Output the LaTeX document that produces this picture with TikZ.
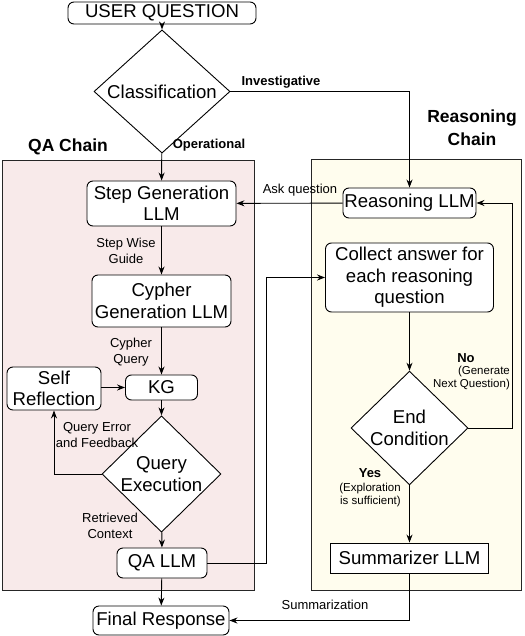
\documentclass[tikz,border=0pt]{standalone}
\usepackage{fontspec}
\setmainfont{Liberation Sans}
\usetikzlibrary{shapes.geometric,arrows.meta}
\definecolor{qapink}{HTML}{F8EAEA}
\definecolor{rcyellow}{HTML}{FFFDEE}
\newcommand{\bigf}{\fontsize{18.6}{21.5}\selectfont}
\newcommand{\smallf}{\fontsize{13}{16}\selectfont}
\newcommand{\tinyf}{\fontsize{11.5}{13}\selectfont}

\begin{document}
\begin{tikzpicture}[x=1pt,y=-1pt,>={Stealth[length=8pt,width=6pt]},line width=0.9pt,
	box/.style={draw,rounded corners=6pt,fill=white,align=center,inner sep=0pt,font=\bigf},
	sqbox/.style={draw,fill=white,align=center,inner sep=0pt,font=\bigf},
	cond/.style={draw,diamond,fill=white,align=center,inner sep=0pt,font=\bigf},
	lbl/.style={font=\smallf,align=center,inner sep=0pt},
	head/.style={font=\fontsize{17.5}{23}\selectfont\bfseries,align=center,inner sep=0pt}]
	\useasboundingbox (0,0) rectangle (524,636);
	% chain backgrounds
	\draw[fill=qapink,draw=black!85] (2.5,160) rectangle (254,590);
	\draw[fill=rcyellow,draw=black!85] (311.5,159) rectangle (521.5,590);
	\node[head] (qahead) at (68,147) {QA Chain};
	\node[head] (rchead) at (472,128) {Reasoning\\Chain};
	% QA chain
	\node[box,minimum width=188,minimum height=22] (uq) at (162,13) {USER QUESTION};
	\node[cond,minimum width=136,minimum height=83] (cls) at (162,91.5) {Classification};
	\node[box,minimum width=149,minimum height=45] (stepgen) at (161.5,203.5) {Step Generation\\LLM};
	\node[box,minimum width=139,minimum height=52] (cypher) at (161.5,301) {Cypher\\Generation LLM};
	\node[box,minimum width=94,minimum height=43] (self) at (54,388.5) {Self\\Reflection};
	\node[box,minimum width=72,minimum height=25] (kg) at (161.5,387.5) {KG};
	\node[cond,minimum width=119,minimum height=92] (qexec) at (161.5,474) {Query\\Execution};
	\node[box,minimum width=90,minimum height=30] (qallm) at (162,563) {QA LLM};
	\node[box,minimum width=136,minimum height=29] (final) at (161,620.5) {Final Response};
	% reasoning chain
	\node[box,minimum width=133,minimum height=30] (rllm) at (409.5,203) {Reasoning LLM};
	\node[box,minimum width=168,minimum height=69] (collect) at (409.5,277.5) {Collect answer for\\each reasoning\\question};
	\node[cond,minimum width=117,minimum height=95] (endc) at (409.5,428) {End\\Condition};
	\node[sqbox,minimum width=158,minimum height=30] (summ) at (409.5,558) {Summarizer LLM};
	\coordinate (qaturn) at (266,563);
	\coordinate (noturn) at (512,428);
	% connectors
	\draw[->] (uq) -- (cls);
	\draw[->] (cls) -- (stepgen);
	\draw[->] (cls.east) -| (rllm.north);
	\draw[->] (rllm) -- (stepgen);
	\draw[->] (stepgen) -- (cypher);
	\draw[->] (cypher) -- (kg);
	\draw[->] (self.east |- kg) -- (kg.west);
	\draw[->] (kg) -- (qexec);
	\draw[->] (qexec.west) -| (self.south);
	\draw[->] (qexec) -- (qallm);
	\draw[->] (qallm) -- (final);
	\draw[->] (qallm.east) -- (qaturn) |- (collect.west);
	\draw[->] (collect) -- (endc);
	\draw[->] (endc.east) -- (noturn) |- (rllm.east);
	\draw[->] (endc) -- (summ);
	\draw[->] (summ.south) |- (final.east);
	% labels
	\node[lbl,font=\smallf\bfseries] (inv) at (281,82) {Investigative};
	\node[lbl,font=\smallf\bfseries] (oper) at (209,145) {Operational};
	\node[lbl] (swg) at (126,250.5) {Step Wise\\Guide};
	\node[lbl] (cq) at (131,352) {Cypher\\Query};
	\node[lbl] (qef) at (97,435) {Query Error\\and Feedback};
	\node[lbl] (rctx) at (110,525.5) {Retrieved\\Context};
	\node[lbl] (askq) at (300,190) {Ask question};
	\node[lbl] (summz) at (325,605) {Summarization};
	\node[lbl,font=\smallf\bfseries] (nolbl) at (466,358) {No};
	\node[lbl,font=\tinyf,align=right] (nonote) at (471.5,378.5) {(Generate\\Next Question)};
	\node[lbl,font=\smallf\bfseries] (yeslbl) at (370,473) {Yes};
	\node[lbl,font=\tinyf,align=right] (yesnote) at (370,495) {(Exploration\\is sufficient)};
\end{tikzpicture}
\end{document}
